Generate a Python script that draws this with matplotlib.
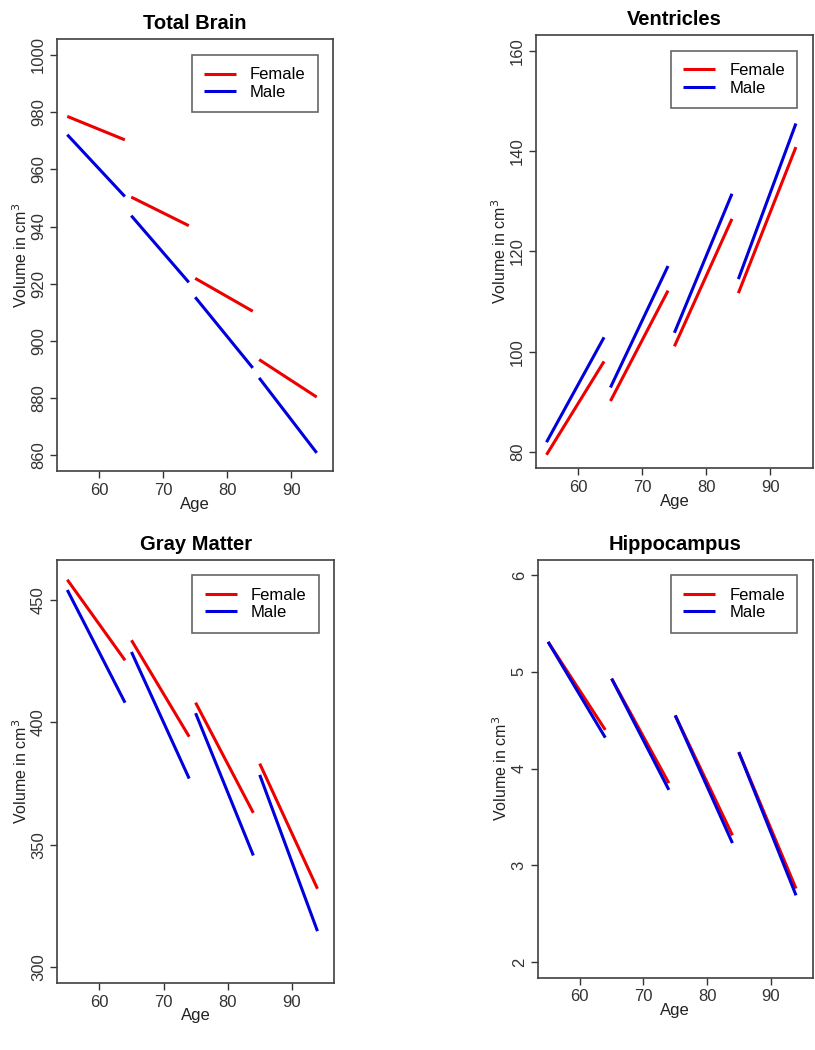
import matplotlib
matplotlib.use('Agg')
import matplotlib.pyplot as plt

plt.rcParams['font.family'] = ['Liberation Sans', 'DejaVu Sans']

# age groups: each line runs from the start age to the end age of the group
age_start = [55, 65, 75, 85]
age_end = [64, 74, 84, 94]

# volumes at start / end of each age group
brain_female = [(978.5, 970.3), (950.3, 940.3), (921.9, 910.4), (893.5, 880.4)]
brain_male = [(972.1, 950.5), (943.8, 920.5), (915.3, 890.6), (887.1, 860.9)]

vent_female = [(79.5, 98.1), (90.2, 112.2), (101.1, 126.5), (111.7, 140.8)]
vent_male = [(82.0, 102.9), (92.9, 117.1), (103.8, 131.5), (114.5, 145.5)]

gray_female = [(458.2, 425.3), (433.5, 394.1), (408.0, 363.0), (383.1, 332.0)]
gray_male = [(454.0, 408.0), (428.7, 377.0), (403.7, 345.6), (378.5, 314.7)]

hippo_female = [(5.31, 4.40), (4.93, 3.85), (4.55, 3.31), (4.17, 2.76)]
hippo_male = [(5.31, 4.32), (4.93, 3.78), (4.55, 3.23), (4.17, 2.69)]

titles = ['Total Brain', 'Ventricles', 'Gray Matter', 'Hippocampus']
y_limits = [(860, 1000), (80, 160), (300, 460), (2, 6)]
y_ticks = [list(range(860, 1001, 20)), list(range(80, 161, 20)),
           [300, 350, 400, 450], [2, 3, 4, 5, 6]]
x_ticks = [60, 70, 80, 90]

panels = [(brain_female, brain_male), (vent_female, vent_male),
          (gray_female, gray_male), (hippo_female, hippo_male)]

# axes boxes in figure fractions [left, bottom, width, height]
boxes = [[0.070, 0.551, 0.339, 0.412],
         [0.658, 0.554, 0.339, 0.413],
         [0.070, 0.064, 0.340, 0.403],
         [0.660, 0.069, 0.337, 0.398]]

fig = plt.figure(figsize=(8.15, 10.5), dpi=100)
edge = '#404040'

for i in range(4):
    ax = fig.add_axes(boxes[i])
    female, male = panels[i]
    for k in range(len(age_start)):
        xs = [age_start[k], age_end[k]]
        lf, = ax.plot(xs, list(female[k]), color='#ee0000', lw=2.2,
                      solid_capstyle='butt')
        lm, = ax.plot(xs, list(male[k]), color='#0000dd', lw=2.2,
                      solid_capstyle='butt')

    # R style 4% padding around the range
    lo, hi = y_limits[i]
    pad = (hi - lo) * 0.04
    ax.set_ylim(lo - pad, hi + pad)
    ax.set_xlim(55 - 40 * 0.04, 95 + 40 * 0.04)
    ax.set_yticks(y_ticks[i])
    ax.set_xticks(x_ticks)
    ax.tick_params(axis='both', labelsize=12, colors='#333333',
                   length=5, width=1, direction='out')
    ax.tick_params(axis='y', pad=3)
    for lab in ax.get_yticklabels():
        lab.set_rotation(90)
        lab.set_va('center')
    for s in ax.spines.values():
        s.set_color(edge)
        s.set_linewidth(1.2)

    ax.set_title(titles[i], fontsize=14.5, fontweight='bold', pad=7)
    ax.set_xlabel('Age', fontsize=12, labelpad=-1, color='#222222')
    ax.set_ylabel('Volume in cm$^3$', fontsize=11.5, labelpad=1,
                  color='#222222')

    leg = ax.legend([lf, lm], ['Female', 'Male'], loc='upper right',
                    bbox_to_anchor=(0.945, 0.963), fontsize=12,
                    fancybox=False, handlelength=1.9, borderpad=0.75,
                    labelspacing=0.15, handletextpad=0.85, borderaxespad=0)
    leg.get_frame().set_edgecolor(edge)
    leg.get_frame().set_linewidth(1.2)

fig.savefig('out.png', dpi=100)
